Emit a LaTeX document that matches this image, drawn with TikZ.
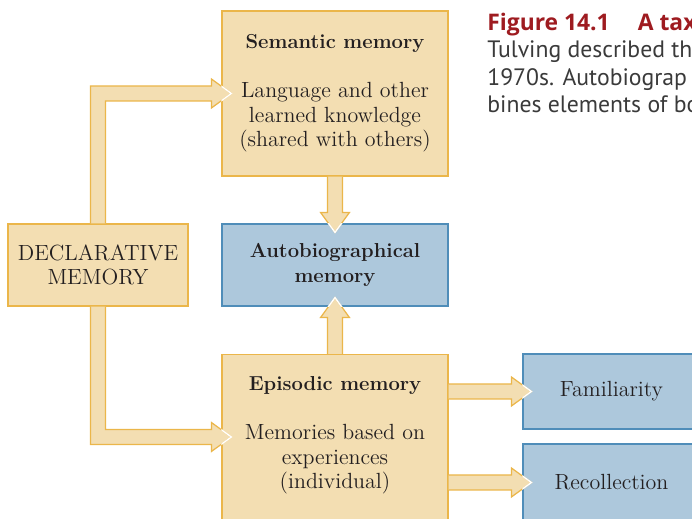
\documentclass[tikz,border=0pt]{standalone}
\usepackage{fontspec}
\newfontfamily\capsans{PT Sans}
\newfontfamily\capbold{Open Sans}
\usetikzlibrary{calc}
\definecolor{memtan}{HTML}{F3DEB2}
\definecolor{tanline}{HTML}{EBB64A}
\definecolor{skyfill}{HTML}{ADC8DC}
\definecolor{skyline}{HTML}{4F8DB9}
\definecolor{inktext}{HTML}{231F20}
\definecolor{figred}{HTML}{9E1B20}
\definecolor{figgray}{HTML}{3A3A3A}

\newcommand{\boxtitle}[1]{{\fontsize{11.5}{14}\selectfont\bfseries #1}}

\tikzset{
  tanbox/.style={draw=tanline, fill=memtan, line width=0.7pt, align=center,
    text=inktext, font=\fontsize{12.5}{14}\selectfont},
  bluebox/.style={tanbox, draw=skyline, fill=skyfill},
  arrowbody/.style={draw=tanline, fill=memtan, line width=0.7pt},
  tipline/.style={draw=white, line width=0.8pt}
}

% white edges of an arrow head inside the box it enters
\newcommand{\tipedge}[3]{%
  \begin{scope}
    \clip (#3.south west) rectangle (#3.north east);
    \draw[tipline] ($(#1)!0.29cm!90:(#2)$) -- (#2) -- ($(#1)!0.29cm!-90:(#2)$);
  \end{scope}}

% straight block arrow: from, tip, box entered
\newcommand{\blockarrow}[3]{%
  \coordinate (ah) at ($(#2)!0.4cm!(#1)$);
  \filldraw[arrowbody] ($(#1)!0.15cm!90:(#2)$) -- ($(ah)!0.15cm!90:(#2)$)
    -- ($(ah)!0.29cm!90:(#2)$) -- (#2) -- ($(ah)!0.29cm!-90:(#2)$)
    -- ($(ah)!0.15cm!-90:(#2)$) -- ($(#1)!0.15cm!-90:(#2)$);
  \tipedge{ah}{#2}{#3}}

\begin{document}
\begin{tikzpicture}[x=0.02cm, y=0.02cm]
  \useasboundingbox (0,0) rectangle (692,519);
  \clip (0,0) rectangle (692,519);

  % boxes
  \node[tanbox, minimum width=4.52cm, minimum height=3.30cm] (sem) at (335,425.5)
    {\boxtitle{Semantic memory}\\[14pt]Language and other\\learned knowledge\\(shared with others)};
  \node[bluebox, minimum width=4.52cm, minimum height=1.64cm] (auto) at (335,254)
    {\boxtitle{Autobiographical}\\\boxtitle{memory}};
  \node[tanbox, minimum width=3.60cm, minimum height=1.64cm] (decl) at (98,254)
    {DECLARATIVE\\MEMORY};
  \node[tanbox, anchor=north, minimum width=4.52cm, minimum height=3.80cm] (epi) at (335,165) {};
  \node[anchor=north, align=center, inner sep=0pt, text=inktext,
    font=\fontsize{12.5}{14}\selectfont] (epitext) at ($(epi.north)+(0,-22)$)
    {\boxtitle{Episodic memory}\\[14pt]Memories based on\\experiences\\(individual)};
  \node[bluebox, minimum width=3.54cm, minimum height=1.50cm] (fam) at (611.5,127.5) {Familiarity};
  \node[bluebox, minimum width=3.54cm, minimum height=1.54cm] (rec) at (611.5,36.5) {Recollection};

  % caption (cut off at the right)
  \node[anchor=north west, inner sep=0pt, align=left, text=figgray,
    font=\capsans\fontsize{13.5}{15.5}\selectfont] (caption) at (487,506)
    {\textcolor{figred}{\capbold\bfseries\fontsize{13}{15.5}\selectfont Figure 14.1\hspace{16pt}A tax}\\Tulving described the\\1970s. Autobiograp\\bines elements of bo};

  % tips and corners
  \coordinate (semin) at ($(sem.west)+(10,0)$);
  \coordinate (semhead) at ($(semin)+(-20,0)$);
  \coordinate (upbend) at (decl.north |- semin);
  \coordinate (epiin) at ($(epi.north west)+(10,-83)$);
  \coordinate (epihead) at ($(epiin)+(-20,0)$);
  \coordinate (downbend) at (decl.south |- epiin);
  \coordinate (autotop) at ($(auto.north)+(0,-9)$);
  \coordinate (autobot) at ($(auto.south)+(0,9)$);
  \coordinate (famin) at ($(fam.west)+(9,0)$);
  \coordinate (famout) at (epi.east |- famin);
  \coordinate (recin) at ($(rec.west)+(9,0)$);
  \coordinate (recout) at (epi.east |- recin);

  % bent arrows from declarative memory
  \filldraw[arrowbody] ($(decl.north)+(-7.5,0)$) -- ($(upbend)+(-7.5,7.5)$)
    -- ($(semhead)+(0,7.5)$) -- ($(semhead)+(0,14.5)$) -- (semin)
    -- ($(semhead)+(0,-14.5)$) -- ($(semhead)+(0,-7.5)$)
    -- ($(upbend)+(7.5,-7.5)$) -- ($(decl.north)+(7.5,0)$);
  \tipedge{semhead}{semin}{sem}
  \filldraw[arrowbody] ($(decl.south)+(-7.5,0)$) -- ($(downbend)+(-7.5,-7.5)$)
    -- ($(epihead)+(0,-7.5)$) -- ($(epihead)+(0,-14.5)$) -- (epiin)
    -- ($(epihead)+(0,14.5)$) -- ($(epihead)+(0,7.5)$)
    -- ($(downbend)+(7.5,7.5)$) -- ($(decl.south)+(7.5,0)$);
  \tipedge{epihead}{epiin}{epi}

  % straight arrows
  \blockarrow{sem.south}{autotop}{auto}
  \blockarrow{epi.north}{autobot}{auto}
  \blockarrow{famout}{famin}{fam}
  \blockarrow{recout}{recin}{rec}
\end{tikzpicture}
\end{document}
